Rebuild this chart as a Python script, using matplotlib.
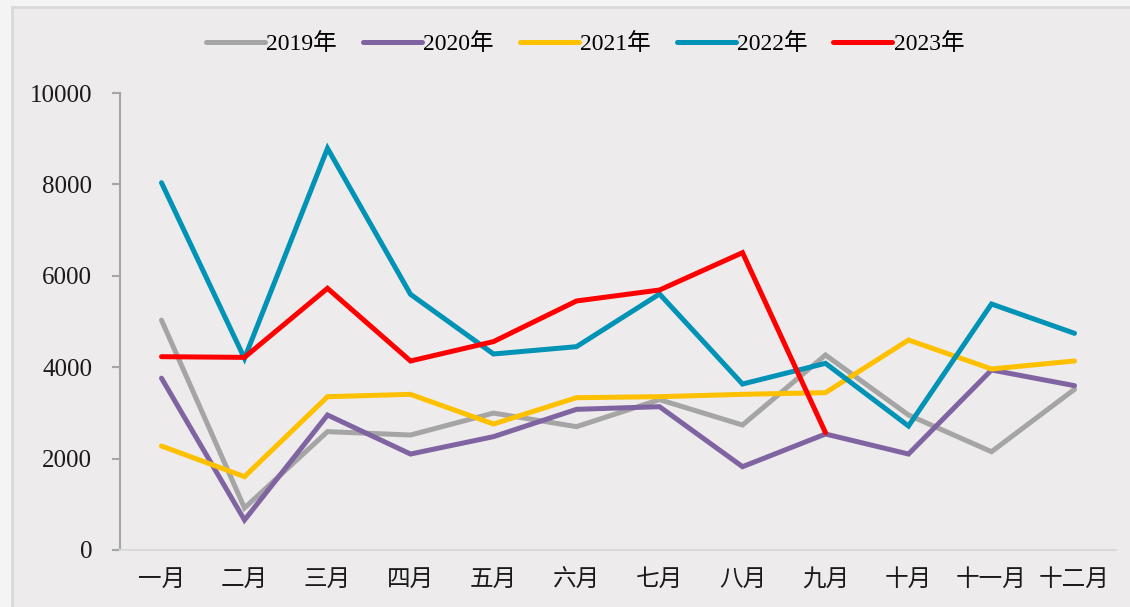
import matplotlib
matplotlib.use("Agg")
import matplotlib.pyplot as plt
from matplotlib.patches import Rectangle

plt.rcParams['font.family'] = ['Liberation Serif', 'Noto Sans CJK SC', 'DejaVu Sans']

months = ["一月", "二月", "三月", "四月", "五月", "六月", "七月", "八月", "九月", "十月", "十一月", "十二月"]
s2019 = [5030, 920, 2590, 2516, 2996, 2699, 3290, 2735, 4267, 2954, 2151, 3516]
s2020 = [3760, 656, 2954, 2100, 2480, 3078, 3136, 1823, 2538, 2100, 3939, 3596]
s2021 = [2275, 1605, 3355, 3406, 2757, 3333, 3355, 3406, 3443, 4595, 3961, 4136]
s2022 = [8037, 4194, 8789, 5595, 4289, 4449, 5602, 3632, 4085, 2713, 5383, 4741]
s2023 = [4230, 4215, 5726, 4136, 4560, 5449, 5689, 6506, 2567]
series = [("2019年", s2019, "#A5A5A5"),
          ("2020年", s2020, "#8064A2"),
          ("2021年", s2021, "#FFC000"),
          ("2022年", s2022, "#0093B6"),
          ("2023年", s2023, "#FF0000")]
yticks = [0, 2000, 4000, 6000, 8000, 10000]

W, H = 1130, 607
fig = plt.figure(figsize=(W / 100, H / 100), dpi=100, facecolor="#F4F4F4")
fig.patches.append(Rectangle((12 / W, -0.01), 1.0, 1.01 - 7 / H, transform=fig.transFigure,
                             facecolor="#EDEBEC", edgecolor="#D9D9D9", linewidth=2, zorder=-5))

ax = fig.add_axes([120 / W, 1 - 550 / H, (1116 - 120) / W, (550 - 93) / H])
ax.set_zorder(2)
ax.set_facecolor("none")

x_all = list(range(len(months)))
for name, vals, col in series:
    ax.plot(x_all[:len(vals)], vals, color=col, lw=3.6, label=name,
            solid_joinstyle="miter", solid_capstyle="round")

ax.set_xlim(-0.5, 11.5)
ax.set_ylim(0, 10000)
ax.set_yticks(yticks)
ax.set_xticks(x_all)
ax.set_xticklabels(months)
for sp in ["top", "right"]:
    ax.spines[sp].set_visible(False)
ax.spines["left"].set_color("#A6A6A6")
ax.spines["left"].set_linewidth(1.5)
ax.spines["bottom"].set_color("#D9D9D9")
ax.spines["bottom"].set_linewidth(1.5)
ax.tick_params(axis="y", length=6, width=1.5, color="#A6A6A6", pad=14, labelsize=18, labelcolor="#1A1A1A")
ax.tick_params(axis="x", length=0, pad=14, labelsize=17, labelcolor="#1A1A1A")

leg = fig.legend(loc="center", bbox_to_anchor=(585 / W, 1 - 44 / H), ncol=5, frameon=False,
                 fontsize=17, handlelength=2.5, handletextpad=0.05, columnspacing=1.1)
leg.set_zorder(3)

fig.savefig("out.png", dpi=100, facecolor=fig.get_facecolor())
